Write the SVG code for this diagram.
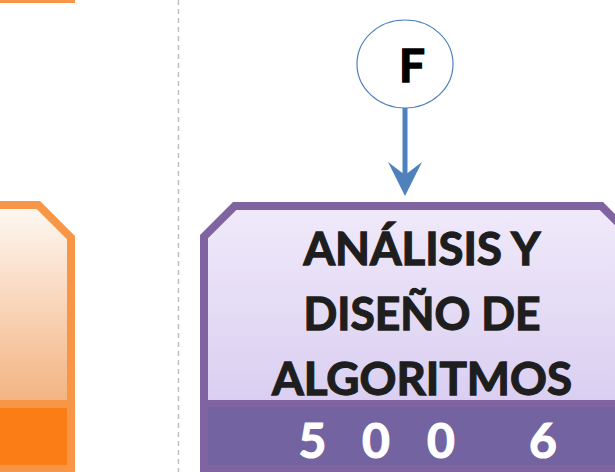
<svg xmlns="http://www.w3.org/2000/svg" width="615" height="472" viewBox="0 0 615 472">
<defs>
<linearGradient id="gOr" x1="0" y1="0" x2="0" y2="1">
<stop offset="0" stop-color="#FDF7F1"/>
<stop offset="1" stop-color="#F4B482"/>
</linearGradient>
<linearGradient id="gPu" x1="0" y1="0" x2="0" y2="1">
<stop offset="0" stop-color="#F0E9FA"/>
<stop offset="1" stop-color="#DACFF1"/>
</linearGradient>
<marker id="ah" viewBox="0 0 34 34" refX="18" refY="17" markerWidth="34" markerHeight="34" markerUnits="userSpaceOnUse" orient="auto">
<path d="M0,0 L34,17 L0,34 L13,17 Z" fill="#4F81BD"/>
</marker>
<style>
.lbl{font-family:Lato,"Liberation Sans",sans-serif;font-weight:bold;fill:#1E1E1E;stroke:#1E1E1E;stroke-width:1.3px;text-anchor:middle}
.num{font-family:Lato,"Liberation Sans",sans-serif;font-weight:bold;fill:#FFFFFF;stroke:#FFFFFF;stroke-width:1.2px;text-anchor:middle;font-size:48px}
</style>
</defs>
<rect width="615" height="472" fill="#FFFFFF"/>
<line x1="178.5" y1="0" x2="178.5" y2="472" stroke="#C0C0C0" stroke-width="1.5" stroke-dasharray="5,4"/>
<g id="orange-top">
<rect x="0" y="0" width="75" height="3" fill="#F79646"/>
</g>
<g id="orange-node">
<polygon points="-10,201 40,201 75,236 75,480 -10,480" fill="#F79646"/>
<polygon points="-10,209 36.7,209 67,239.3 67,400 -10,400" fill="url(#gOr)"/>
<rect x="-10" y="408" width="77" height="57" fill="#FA7D16"/>
</g>
<g id="node-F">
<ellipse cx="405" cy="64" rx="48" ry="44" fill="#FFFFFF" stroke="#4F81BD" stroke-width="1.2"/>
<text class="lbl" x="412" y="82" font-size="46" style="fill:#000;stroke:#000">F</text>
</g>
<g id="connectors">
<line x1="405" y1="108" x2="405" y2="180" stroke="#4F81BD" stroke-width="5" marker-end="url(#ah)"/>
</g>
<g id="node-analisis">
<polygon points="200,235 233,202 603,202 636,235 636,480 200,480" fill="#8064A2"/>
<polygon points="208,238.3 236.3,210 599.7,210 628,238.3 628,400 208,400" fill="url(#gPu)"/>
<rect x="208" y="407" width="420" height="58" fill="#7363A0"/>
<text class="lbl" x="422" y="265" font-size="46" textLength="237" lengthAdjust="spacingAndGlyphs">ANÁLISIS Y</text>
<text class="lbl" x="422" y="330" font-size="46" textLength="237" lengthAdjust="spacingAndGlyphs">DISEÑO DE</text>
<text class="lbl" x="422" y="395" font-size="46" textLength="300" lengthAdjust="spacingAndGlyphs">ALGORITMOS</text>
<text class="num" x="312.5" y="458">5</text>
<text class="num" x="376" y="458">0</text>
<text class="num" x="441" y="458">0</text>
<text class="num" x="543" y="458">6</text>
</g>
</svg>
